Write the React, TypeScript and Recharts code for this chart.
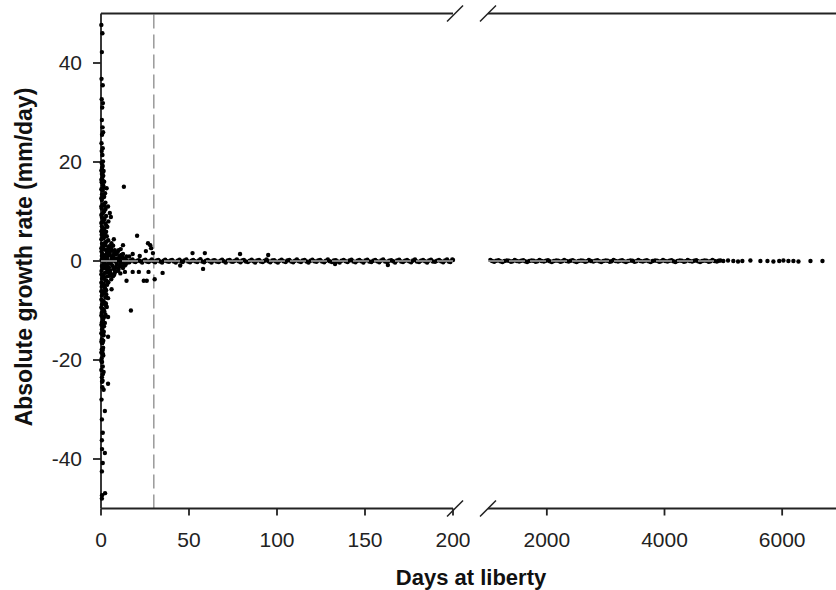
import React from 'react';
import { ScatterChart, Scatter, XAxis, YAxis, ReferenceLine } from 'recharts';

type Pt = [number, number];

const FONT = '"Liberation Sans", Arial, Helvetica, sans-serif';
const INK = '#222';

// axis ticks on each side of the break
const leftTicks = [0, 50, 100, 150, 200];
const rightTicks = [2000, 4000, 6000];
const yTicks = [-40, -20, 0, 20, 40];

// [days at liberty, growth rate]
const coneUp: Pt[] = [
  [0.5, 1.0], [2.5, 0.8], [4.5, 1.2], [6.5, 0.9], [8.5, 1.3], [10.5, 1.0], [12.5, 1.4], [14.5, 0.9], [3.2, 1.5], [7.4, 1.6],
  [0.3, 1.9], [2.1, 2.3], [3.9, 1.8], [5.6, 2.6], [7.8, 2.2], [9.6, 1.9], [1.2, 2.8], [4.6, 3.0], [6.9, 3.1], [11.2, 2.4],
  [0.6, 3.5], [2.4, 3.8], [4.1, 4.2], [5.9, 3.6], [1.5, 4.6], [3.3, 5.0], [0.4, 5.3], [2.2, 5.6], [7.3, 4.4],
  [1.1, 6.2], [3.6, 6.9], [0.5, 7.0], [2.4, 7.6], [1.4, 8.2], [4.2, 8.0], [0.6, 8.8], [2.9, 9.1], [5.6, 8.9], [5.0, 9.7],
  [1.5, 9.9], [0.4, 10.6], [2.6, 10.5], [4.0, 11.0], [1.2, 11.5], [0.5, 12.3], [2.5, 11.8], [1.6, 12.9], [0.6, 13.5], [2.3, 13.7], [3.2, 14.7],
  [0.9, 14.3], [1.2, 15.3], [0.4, 15.9], [1.8, 16.0], [0.7, 16.8], [0.5, 17.6], [1.5, 18.2], [0.6, 18.8], [0.4, 19.8], [1.0, 19.2],
  [0.8, 21.4], [0.4, 22.2], [1.0, 22.8], [0.3, 23.8], [0.6, 25.5], [1.2, 26.0], [0.9, 27.0], [0.5, 28.5], [0.7, 31.0], [1.1, 31.9],
  [0.4, 32.7], [1.0, 35.5], [0.3, 36.8], [0.5, 42.2], [0.8, 46.0], [0.2, 47.7],
];

const coneDown: Pt[] = [
  [0.5, -1.0], [2.5, -0.8], [4.5, -1.3], [6.5, -0.9], [8.5, -1.2], [10.5, -1.0], [12.5, -1.4], [3.3, -1.6], [7.5, -1.7], [1.4, -1.5],
  [0.3, -2.0], [2.2, -2.4], [4.0, -1.9], [5.7, -2.6], [7.9, -2.3], [9.7, -2.0], [1.3, -2.9], [4.7, -3.0], [6.8, -3.1], [11.0, -2.5],
  [0.6, -3.6], [2.5, -3.9], [4.2, -4.3], [5.8, -3.7], [1.5, -4.6], [3.5, -4.8], [0.4, -5.2], [2.3, -5.5], [6.0, -5.7],
  [1.1, -6.1], [3.0, -6.7], [0.5, -7.0], [2.5, -7.4], [4.0, -7.5], [1.4, -8.1], [0.6, -8.8], [2.8, -8.6], [3.3, -9.3],
  [1.5, -9.8], [0.4, -10.5], [2.5, -10.8], [4.0, -11.3], [1.2, -11.8], [0.5, -12.4], [2.2, -12.5], [1.0, -13.3], [1.6, -14.3], [0.6, -13.8],
  [0.9, -14.9], [4.0, -15.3], [0.5, -15.8], [0.7, -16.6], [1.2, -17.5], [0.4, -17.9], [0.6, -18.4], [1.3, -19.1], [0.4, -19.7],
  [0.6, -20.4], [1.0, -21.3], [1.5, -22.4], [0.5, -23.5], [0.6, -24.4], [4.0, -24.8], [0.8, -25.5], [1.5, -26.0], [0.3, -28.0],
  [2.2, -30.3], [0.5, -32.0], [1.0, -34.7], [0.5, -36.2], [0.6, -38.0], [2.2, -38.8], [1.0, -40.8], [0.5, -42.5], [2.3, -46.9],
  [0.6, -47.3], [0.5, -48.0],
];

// the solid column right at the y axis and the flare around zero
const coneCore: Pt[] = [
  [0.2, 2.6], [1.8, 3.3], [0.2, 4.4], [1.9, 5.1], [0.2, 6.0], [1.9, 6.6], [0.2, 7.7], [2.0, 8.5], [0.2, 9.3], [1.9, 10.1],
  [0.2, 11.0], [1.8, 11.2], [0.2, 12.7], [1.7, 13.1], [0.2, 14.5], [1.5, 14.9], [0.2, 16.4], [1.3, 17.2], [0.2, 18.3], [1.1, 20.1],
  [0.2, -2.7], [1.8, -3.3], [0.2, -4.4], [1.9, -5.0], [0.2, -6.1], [1.9, -6.6], [0.2, -7.8], [2.0, -8.4], [0.2, -9.4], [1.9, -10.2],
  [0.2, -11.0], [1.8, -11.3], [0.2, -12.9], [1.7, -13.2], [0.2, -14.6], [1.5, -15.0], [0.2, -16.3], [1.3, -16.1], [0.2, -18.5], [1.1, -18.8],
  [0.2, -20.2], [1.0, -22.9], [0.2, -22.0], [0.9, -24.2],
  [1.0, 3.0], [1.0, 4.8], [1.0, 6.4], [1.0, 8.0], [1.0, 9.6], [1.0, 11.3], [1.0, 12.9], [1.0, 14.6], [1.0, 16.2], [1.0, 17.9],
  [1.0, -3.1], [1.0, -4.9], [1.0, -6.5], [1.0, -8.1], [1.0, -9.7], [1.0, -11.4], [1.0, -13.0], [1.0, -14.7], [1.0, -16.3], [1.0, -18.0],
  [3.0, 2.2], [3.1, 3.9], [2.9, 5.9], [3.0, 7.2], [3.0, -2.3], [3.1, -4.0], [2.9, -5.9], [3.0, -7.2], [2.8, -9.0],
  [2.0, 1.1], [4.0, -0.6], [6.0, 0.6], [9.0, -0.6], [12.0, 0.7], [14.0, -0.7], [2.0, -1.1], [5.0, 1.9], [5.2, -1.9], [8.0, 0.4],
  [3.5, 0.6], [5.5, -0.5], [7.0, 1.0], [9.5, 0.5], [11.0, -0.4], [13.0, 0.5], [15.0, -0.3], [3.0, -1.2], [5.0, 1.4], [7.0, -1.4],
  [9.0, 1.6], [10.0, -1.6], [6.0, 2.1], [8.0, -2.0], [4.0, 2.5], [5.0, -2.5], [2.5, 3.2], [3.5, -3.1], [6.0, 3.0], [7.5, -2.8],
  [11.5, 1.2], [12.0, -1.1], [13.5, -0.9], [10.0, 2.2], [2.0, 0.5], [1.5, -0.6], [0.8, 1.4], [0.8, -1.4], [1.3, 0.3], [4.8, -0.2],
];

const earlyOutliers: Pt[] = [
  [13, 15], [20.5, 5.1], [12.5, 3.2], [26.7, 3.6], [28, 3.2], [28.5, 2.6], [25.5, 2.0], [29.5, 1.6], [18, 1.4], [22, 1.0],
  [16, 0.9], [52, 1.6], [59, 1.6], [79, 1.4], [95, 1.2], [13.6, -2.2], [18, -2.2], [21.5, -2.2], [27, -2.2], [35, -2.4],
  [14.5, -4], [24.3, -4], [26, -4], [30.5, -3.7], [17, -10], [58, -1.6], [45, -0.9], [133, -0.6], [163, -0.8],
];

const leftBand: Pt[] = [
  [0.4, 0.3], [1.9, -0.3], [3.7, 0.2], [5.2, -0.4], [7.1, 0.35], [8.8, -0.2], [10.6, 0.25], [12.3, -0.35], [14.2, 0.2], [16.1, -0.25],
  [17.9, 0.3], [19.6, -0.2], [21.5, 0.15], [23.4, -0.3], [25.2, 0.25], [27.1, -0.2], [28.9, 0.3], [30.8, -0.25], [32.6, 0.2], [34.7, -0.3],
  [36.5, 0.25], [38.6, -0.15], [40.4, 0.2], [42.5, -0.3], [44.6, 0.25], [46.4, -0.2], [48.5, 0.3], [50.6, -0.25], [52.4, 0.2], [54.7, -0.2],
  [56.5, 0.35], [58.6, -0.25], [60.7, 0.2], [62.8, -0.3], [64.6, 0.15], [66.9, -0.2], [68.8, 0.25], [70.9, -0.3], [73.1, 0.2], [75.0, -0.15],
  [77.2, 0.3], [79.3, -0.25], [81.2, 0.2], [83.5, -0.2], [85.6, 0.25], [87.6, -0.3], [89.8, 0.2], [91.9, -0.2], [94.1, 0.3], [96.2, -0.25],
  [98.4, 0.15], [100.5, -0.3], [102.6, 0.25], [104.9, -0.2], [107.0, 0.2], [109.2, -0.25], [111.3, 0.3], [113.6, -0.2], [115.7, 0.2], [117.9, -0.3],
  [120.1, 0.25], [122.4, -0.15], [124.5, 0.2], [126.8, -0.25], [128.9, 0.3], [131.2, -0.2], [133.4, 0.15], [135.6, -0.3], [137.9, 0.2], [140.1, -0.2],
  [142.3, 0.25], [144.6, -0.25], [146.8, 0.2], [149.1, -0.3], [151.3, 0.25], [153.6, -0.2], [155.8, 0.2], [158.1, -0.25], [160.3, 0.3], [162.6, -0.2],
  [164.9, 0.15], [167.1, -0.3], [169.4, 0.25], [171.6, -0.2], [173.9, 0.2], [176.2, -0.25], [178.4, 0.3], [180.7, -0.2], [183.0, 0.2], [185.3, -0.3],
  [187.5, 0.25], [189.8, -0.15], [192.1, 0.2], [194.4, -0.25], [196.6, 0.3], [198.5, -0.2], [199.6, 0.3],
];

const leftBandMid: Pt[] = [
  [1.1, 0], [2.8, 0.1], [4.5, -0.1], [6.2, 0.05], [8.0, -0.05], [9.7, 0.1], [11.5, -0.1], [13.2, 0.05], [15.1, -0.05], [17.0, 0.1],
  [18.8, -0.1], [20.5, 0.05], [22.4, -0.05], [24.3, 0.1], [26.1, -0.1], [28.0, 0.05], [29.8, -0.05], [31.7, 0.1], [33.6, -0.1], [35.6, 0.05],
  [37.5, -0.05], [39.5, 0.1], [41.4, -0.1], [43.5, 0.05], [45.5, -0.05], [47.4, 0.1], [49.5, -0.1], [51.5, 0.05], [53.5, -0.05], [55.6, 0.1],
  [57.5, -0.1], [59.6, 0.05], [61.7, -0.05], [63.7, 0.1], [65.7, -0.1], [67.8, 0.05], [69.8, -0.05], [72.0, 0.1], [74.0, -0.1], [76.1, 0.05],
  [78.2, -0.05], [80.2, 0.1], [82.3, -0.1], [84.5, 0.05], [86.6, -0.05], [88.7, 0.1], [90.8, -0.1], [93.0, 0.05], [95.1, -0.05], [97.3, 0.1],
  [99.4, -0.1], [101.5, 0.05], [103.7, -0.05], [105.9, 0.1], [108.1, -0.1], [110.2, 0.05], [112.4, -0.05], [114.6, 0.1], [116.8, -0.1], [119.0, 0.05],
  [121.2, -0.05], [123.4, 0.1], [125.6, -0.1], [127.8, 0.05], [130.0, -0.05], [132.3, 0.1], [134.5, -0.1], [136.7, 0.05], [139.0, -0.05], [141.2, 0.1],
  [143.4, -0.1], [145.7, 0.05], [147.9, -0.05], [150.2, 0.1], [152.4, -0.1], [154.7, 0.05], [156.9, -0.05], [159.2, 0.1], [161.4, -0.1], [163.7, 0.05],
  [166.0, -0.05], [168.2, 0.1], [170.5, -0.1], [172.7, 0.05], [175.0, -0.05], [177.3, 0.1], [179.5, -0.1], [181.8, 0.05], [184.1, -0.05], [186.4, 0.1],
  [188.6, -0.1], [190.9, 0.05], [193.2, -0.05], [195.5, 0.1], [197.6, -0.1], [200, 0.2],
];

const rightBand: Pt[] = [
  [1040, 0.2], [1105, -0.15], [1180, 0.15], [1245, -0.2], [1320, 0.1], [1390, -0.15], [1455, 0.2], [1530, -0.1], [1600, 0.15], [1665, -0.2],
  [1740, 0.1], [1810, -0.15], [1875, 0.2], [1950, -0.1], [2020, 0.15], [2085, -0.2], [2160, 0.1], [2230, -0.15], [2295, 0.2], [2370, -0.1],
  [2440, 0.15], [2505, -0.2], [2580, 0.1], [2650, -0.15], [2715, 0.2], [2790, -0.1], [2860, 0.15], [2925, -0.2], [3000, 0.1], [3070, -0.15],
  [3135, 0.2], [3210, -0.1], [3280, 0.15], [3345, -0.2], [3420, 0.1], [3490, -0.15], [3555, 0.2], [3630, -0.1], [3700, 0.15], [3765, -0.2],
  [3840, 0.1], [3910, -0.15], [3975, 0.2], [4050, -0.1], [4120, 0.15], [4185, -0.2], [4260, 0.1], [4330, -0.15], [4395, 0.2], [4470, -0.1],
  [4540, 0.15], [4605, -0.2], [4680, 0.1], [4750, -0.15], [4815, 0.2], [4890, -0.1], [4950, 0.1],
];

const rightBandMid: Pt[] = [
  [1070, 0], [1140, 0.05], [1210, -0.05], [1280, 0], [1355, 0.05], [1420, -0.05], [1490, 0], [1565, 0.05], [1630, -0.05], [1700, 0],
  [1775, 0.05], [1840, -0.05], [1910, 0], [1985, 0.05], [2050, -0.05], [2120, 0], [2195, 0.05], [2260, -0.05], [2330, 0], [2405, 0.05],
  [2470, -0.05], [2540, 0], [2615, 0.05], [2680, -0.05], [2750, 0], [2825, 0.05], [2890, -0.05], [2960, 0], [3035, 0.05], [3100, -0.05],
  [3170, 0], [3245, 0.05], [3310, -0.05], [3380, 0], [3455, 0.05], [3520, -0.05], [3590, 0], [3665, 0.05], [3730, -0.05], [3800, 0],
  [3875, 0.05], [3940, -0.05], [4010, 0], [4085, 0.05], [4150, -0.05], [4220, 0], [4295, 0.05], [4360, -0.05], [4430, 0], [4505, 0.05],
  [4570, -0.05], [4640, 0], [4715, 0.05], [4780, -0.05], [4850, 0], [4920, 0.05],
];

const rightTail: Pt[] = [
  [5000, 0], [5080, 0.1], [5170, 0], [5250, -0.1], [5323, 0], [5460, 0.1], [5630, 0], [5750, 0],
  [5851, -0.1], [5950, 0], [6021, 0.1], [6106, 0], [6191, 0], [6277, -0.1], [6481, 0], [6685, 0],
];

const toRows = (pts: Pt[]) => pts.map(([x, y]) => ({ x, y }));
const leftData = toRows([...leftBand, ...leftBandMid, ...coneCore, ...coneUp, ...coneDown, ...earlyOutliers]);
const rightData = toRows([...rightBand, ...rightBandMid, ...rightTail]);

const Dot = (p: any) => <circle cx={p.cx} cy={p.cy} r={2.2} fill="#000" />;

const axisLine = { stroke: INK, strokeWidth: 1.8 };
const tickStyle = { fill: INK, fontSize: 21, fontFamily: FONT };

export default function App() {
  return (
    <div
      style={{
        position: 'absolute',
        left: 0,
        top: 0,
        width: 836,
        height: 590,
        overflow: 'hidden',
        background: '#fff',
        fontFamily: FONT,
      }}
    >
      {/* left part: 0-200 days */}
      <div style={{ position: 'absolute', left: 0, top: 0 }}>
        <ScatterChart width={470} height={590} margin={{ top: 13.5, right: 17, bottom: 51.5, left: 0 }}>
          <XAxis
            type="number"
            dataKey="x"
            domain={[0, 200]}
            ticks={leftTicks}
            interval={0}
            height={30}
            tickSize={7}
            tickMargin={17}
            axisLine={axisLine}
            tickLine={axisLine}
            tick={tickStyle}
          />
          <YAxis
            type="number"
            dataKey="y"
            domain={[-50, 50]}
            ticks={yTicks}
            interval={0}
            width={101}
            tickSize={8}
            tickMargin={11}
            axisLine={axisLine}
            tickLine={axisLine}
            tick={tickStyle}
          />
          <ReferenceLine x={30} stroke="#9a9a9a" strokeWidth={1.5} strokeDasharray="14 6" />
          <Scatter data={leftData} shape={Dot} isAnimationActive={false} />
          <ReferenceLine y={0} stroke="#a8a8a8" strokeWidth={1.6} strokeDasharray="16 5" zIndex={700} />
          <ReferenceLine y={50} stroke={INK} strokeWidth={1.8} />
          {/* break marks */}
          <ReferenceLine
            segment={[{ x: 196.6, y: -51.6 }, { x: 205.7, y: -48.4 }]}
            ifOverflow="visible"
            stroke={INK}
            strokeWidth={1.5}
          />
          <ReferenceLine
            segment={[{ x: 196.6, y: 48.4 }, { x: 205.7, y: 51.6 }]}
            ifOverflow="visible"
            stroke={INK}
            strokeWidth={1.5}
          />
        </ScatterChart>
      </div>

      {/* right part: long-term recaptures */}
      <div style={{ position: 'absolute', left: 470, top: 0 }}>
        <ScatterChart width={381} height={590} margin={{ top: 13.5, right: 10, bottom: 51.5, left: 18 }}>
          <XAxis
            type="number"
            dataKey="x"
            domain={[1000, 7000]}
            ticks={rightTicks}
            interval={0}
            height={30}
            tickSize={7}
            tickMargin={17}
            axisLine={axisLine}
            tickLine={axisLine}
            tick={tickStyle}
          />
          <YAxis type="number" dataKey="y" domain={[-50, 50]} hide />
          <Scatter data={rightData} shape={Dot} isAnimationActive={false} />
          <ReferenceLine
            segment={[{ x: 1000, y: 0 }, { x: 4900, y: 0 }]}
            stroke="#a8a8a8"
            strokeWidth={1.6}
            strokeDasharray="16 5"
            zIndex={700}
          />
          <ReferenceLine y={50} stroke={INK} strokeWidth={1.8} />
          <ReferenceLine
            segment={[{ x: 864, y: -51.6 }, { x: 1136, y: -48.4 }]}
            ifOverflow="visible"
            stroke={INK}
            strokeWidth={1.5}
          />
          <ReferenceLine
            segment={[{ x: 864, y: 48.4 }, { x: 1136, y: 51.6 }]}
            ifOverflow="visible"
            stroke={INK}
            strokeWidth={1.5}
          />
        </ScatterChart>
      </div>

      <div
        style={{
          position: 'absolute',
          left: 24,
          top: 257,
          transform: 'translate(-50%, -50%) rotate(-90deg)',
          whiteSpace: 'nowrap',
          fontWeight: 'bold',
          fontSize: 23,
          color: '#111',
        }}
      >
        Absolute growth rate (mm/day)
      </div>
      <div
        style={{
          position: 'absolute',
          left: 471,
          top: 578,
          transform: 'translate(-50%, -50%)',
          whiteSpace: 'nowrap',
          fontWeight: 'bold',
          fontSize: 22,
          color: '#111',
        }}
      >
        Days at liberty
      </div>
    </div>
  );
}
